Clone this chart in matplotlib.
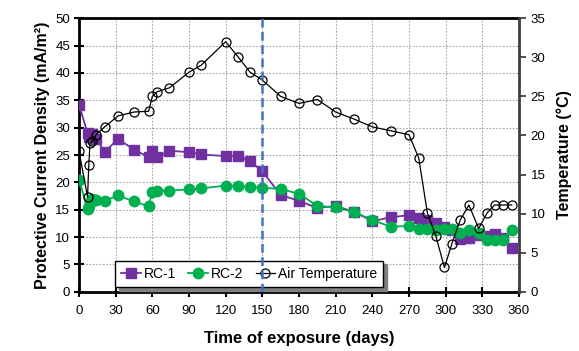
import matplotlib
matplotlib.use("Agg")
import matplotlib.pyplot as plt
from matplotlib.ticker import MultipleLocator

plt.rcParams['font.family'] = ['Liberation Sans', 'DejaVu Sans']

days = [0, 7, 8, 9, 11, 14, 21, 32, 45, 57, 60, 64, 74, 90, 100, 120, 130, 140, 150,
        165, 180, 195, 210, 225, 240, 255, 270, 278, 285, 292, 299, 305, 312, 319,
        327, 334, 340, 347, 354]
rc1 = [34.2, 29.0, 28.3, 28.8, 28.8, 27.9, 25.6, 27.9, 26.0, 24.6, 25.8, 24.6, 25.8,
       25.5, 25.1, 24.8, 24.8, 23.9, 22.0, 17.7, 16.6, 15.3, 15.7, 14.6, 12.9, 13.6,
       14.0, 13.4, 13.1, 12.5, 11.8, 11.2, 9.7, 9.9, 10.3, 10.1, 10.5, 9.8, 8.0]
rc2 = [20.5, 15.2, 15.6, 16.4, 17.0, 16.8, 16.6, 17.6, 16.5, 15.6, 18.3, 18.5, 18.5,
       18.7, 18.9, 19.4, 19.4, 19.2, 19.0, 18.8, 17.9, 15.7, 15.4, 14.6, 13.1, 11.9,
       12.0, 11.4, 11.4, 11.2, 11.4, 11.4, 10.7, 11.2, 10.8, 9.5, 9.5, 9.5, 11.3]
air_temp = [18.0, 12.1, 16.2, 19.0, 19.3, 20.1, 21.1, 22.5, 23.0, 23.1, 25.0, 25.6,
            26.1, 28.1, 29.0, 32.0, 30.1, 28.1, 27.1, 25.0, 24.1, 24.6, 23.0, 22.1,
            21.1, 20.6, 20.1, 17.1, 10.1, 7.1, 3.1, 6.1, 9.2, 11.1, 8.1, 10.1, 11.1,
            11.1, 11.1]
x_ticks = [0, 30, 60, 90, 120, 150, 180, 210, 240, 270, 300, 330, 360]
marker_day = 150

fig = plt.figure(figsize=(5.79, 3.51), dpi=100)
ax = fig.add_axes([79/579, 1-291.7/351, 440/579, 273.4/351])
ax2 = ax.twinx()

purple = '#7030A0'
green = '#00B050'

l1, = ax.plot(days, rc1, color=purple, marker='s', ms=6.5, lw=1.3, label='RC-1',
              markeredgecolor=purple, zorder=3)
l2, = ax.plot(days, rc2, color=green, marker='o', ms=7.5, lw=1.3, label='RC-2',
              markeredgecolor=green, zorder=4)
l3, = ax2.plot(days, air_temp, color='black', marker='o', ms=6.5, lw=0.9,
               markerfacecolor='none', markeredgecolor='black', markeredgewidth=0.9,
               label='Air Temperature', zorder=3)

ax.set_xlim(0, 360)
ax.set_ylim(0, 50)
ax2.set_ylim(0, 35)
ax.set_xticks(x_ticks)
ax.yaxis.set_major_locator(MultipleLocator(5))
ax2.yaxis.set_major_locator(MultipleLocator(5))

ax.grid(True, color='#A6A6A6', linestyle=(0, (1.5, 1.5)), linewidth=0.8, zorder=0)
ax.set_axisbelow(True)

for s in ['left', 'bottom', 'top']:
    ax.spines[s].set_linewidth(2.0)
    ax.spines[s].set_color('black')
ax2.spines['right'].set_linewidth(2.0)
ax2.spines['right'].set_color('#404040')
for s in ['left', 'bottom', 'top']:
    ax2.spines[s].set_visible(False)

ax.tick_params(axis='both', direction='inout', length=7, width=1.5, labelsize=9.5,
               pad=3)
ax.tick_params(axis='x', pad=6)
ax2.tick_params(axis='y', direction='out', length=5, width=1.3, color='#404040',
                labelsize=9.5)

ax.set_xlabel('Time of exposure (days)', fontsize=12, fontweight='bold', labelpad=10)
ax.set_ylabel('Protective Current Density (mA/m²)', fontsize=11.5,
              fontweight='bold', labelpad=4)
ax2.set_ylabel('Temperature (°C)', fontsize=11.5, fontweight='bold', labelpad=8)

leg = ax2.legend(handles=[l1, l2, l3], loc='lower left', bbox_to_anchor=(0.082, 0.017),
                 borderaxespad=0, ncol=3, fontsize=10, frameon=True, fancybox=False,
                 shadow={'color': '#808080', 'alpha': 1.0, 'ox': 2.5, 'oy': -2.5},
                 edgecolor='black',
                 handlelength=1.4, handletextpad=0.2, columnspacing=0.9,
                 borderpad=0.45)
leg.get_frame().set_linewidth(1.0)
leg.set_zorder(5)

ax2.axvline(marker_day, color='#4472C4', linestyle=(0, (3.5, 1.8)), linewidth=1.8,
            zorder=10)

fig.savefig('out.png', dpi=100)
